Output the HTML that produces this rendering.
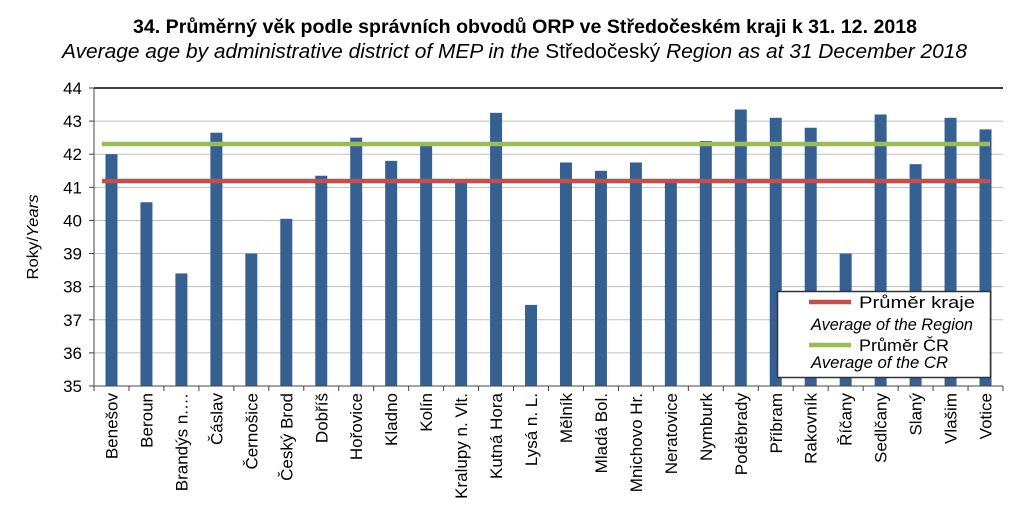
<!DOCTYPE html>
<html><head><meta charset="utf-8"><style>
body{margin:0;background:#fff;}
svg text{font-family:"Liberation Sans",Arial,sans-serif;fill:#000;}
</style></head><body>
<svg width="1036" height="515" xmlns="http://www.w3.org/2000/svg">
<text x="133" y="33" font-size="19.5" font-weight="bold" textLength="784" lengthAdjust="spacingAndGlyphs">34. Průměrný věk podle správních obvodů ORP ve Středočeském kraji k 31. 12. 2018</text>
<text x="62" y="58" font-size="20" textLength="905" lengthAdjust="spacingAndGlyphs"><tspan font-style="italic">Average age by administrative district of MEP in the </tspan>Středočeský<tspan font-style="italic"> Region as at 31 December 2018</tspan></text>
<g id="grid" stroke="#c0c0c0" stroke-width="1"></g>
<g id="bars" fill="#376092"></g>
<g id="ax"></g>
<line x1="102" y1="181" x2="990" y2="181" stroke="#C0504D" stroke-width="4.5"/>
<line x1="102" y1="144" x2="990" y2="144" stroke="#9BBB59" stroke-width="4.5"/>
<rect x="777.5" y="291.5" width="213" height="86" fill="#fff" stroke="#333" stroke-width="1.5"/>
<line x1="809" y1="302" x2="851" y2="302" stroke="#C0504D" stroke-width="4.5"/>
<text x="859" y="308" font-size="17" textLength="116" lengthAdjust="spacingAndGlyphs">Průměr kraje</text>
<text x="811" y="330" font-size="17" font-style="italic" textLength="162" lengthAdjust="spacingAndGlyphs">Average  of the Region</text>
<line x1="809" y1="345" x2="851" y2="345" stroke="#9BBB59" stroke-width="4.5"/>
<text x="859" y="351" font-size="17" textLength="90" lengthAdjust="spacingAndGlyphs">Průměr ČR</text>
<text x="811" y="368" font-size="17" font-style="italic" textLength="137" lengthAdjust="spacingAndGlyphs">Average  of the CR</text>
<text transform="translate(38,237) rotate(-90)" text-anchor="middle" font-size="16" textLength="85" lengthAdjust="spacingAndGlyphs">Roky/<tspan font-style="italic">Years</tspan></text>
<g id="labs"></g>
</svg>
<script>
var ns="http://www.w3.org/2000/svg";
function el(p,t,a,txt){var e=document.createElementNS(ns,t);for(var k in a)e.setAttribute(k,a[k]);if(txt)e.textContent=txt;document.getElementById(p).appendChild(e);return e;}
var x0=94,x1=1003,yb=386,yt=88,u=(yb-yt)/9;
for(var v=35;v<=44;v++){var y=yb-(v-35)*u;if(v>35&&v<44)el("grid","line",{x1:x0,x2:x1,y1:y,y2:y});
el("ax","line",{x1:x0-5,x2:x0,y1:y,y2:y,stroke:"#444"});
el("ax","text",{x:x0-12,y:y+6,"text-anchor":"end","font-size":"17"},String(v));}
el("ax","line",{x1:x0,x2:x1,y1:yt,y2:yt,stroke:"#000","stroke-width":"1.5"});
var n=["Benešov","Beroun","Brandýs n.…","Čáslav","Černošice","Český Brod","Dobříš","Hořovice","Kladno","Kolín","Kralupy n. Vlt.","Kutná Hora","Lysá n. L.","Mělník","Mladá Bol.","Mnichovo Hr.","Neratovice","Nymburk","Poděbrady","Příbram","Rakovník","Říčany","Sedlčany","Slaný","Vlašim","Votice"];
var d=[42.0,40.55,38.4,42.65,39.0,40.05,41.35,42.5,41.8,42.25,41.15,43.25,37.45,41.75,41.5,41.75,41.15,42.4,43.35,43.1,42.8,39.0,43.2,41.7,43.1,42.75];
var w=(x1-x0)/26;
for(var i=0;i<26;i++){var c=x0+w*(i+0.5);var h=(d[i]-35)*u;
el("bars","rect",{x:c-6,y:yb-h,width:12,height:h});
el("ax","line",{x1:x0+w*i,x2:x0+w*i,y1:yb,y2:yb+5,stroke:"#444"});
el("labs","text",{transform:"translate("+(c+6)+",393) rotate(-90)","text-anchor":"end","font-size":"17"},n[i]);}
el("ax","line",{x1:x1,x2:x1,y1:yb,y2:yb+5,stroke:"#444"});
el("ax","line",{x1:x0,x2:x0,y1:yt,y2:yb,stroke:"#444"});
el("ax","line",{x1:x0,x2:x1,y1:yb,y2:yb,stroke:"#444"});
</script>
</body></html>
